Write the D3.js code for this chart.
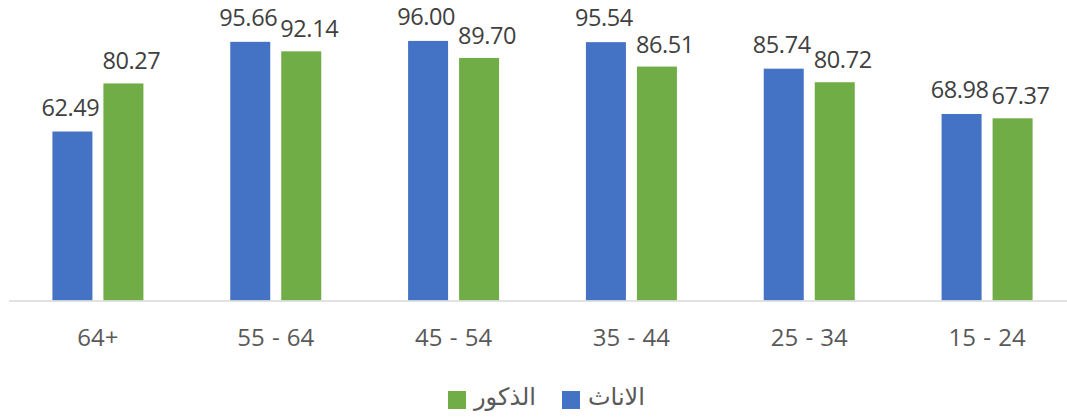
<!DOCTYPE html>
<html>
<head>
<meta charset="utf-8">
<title>Chart</title>
<script src="https://d3js.org/d3.v7.min.js"></script>
<style>
  body { margin: 0; background: #fff; }
  text { font-family: "Open Sans", "DejaVu Sans", sans-serif; }
</style>
</head>
<body>
<svg id="chart"></svg>
<script>
// categories left to right
const categories = ['64+', '55 - 64', '45 - 54', '35 - 44', '25 - 34', '15 - 24'];
const seriesNames = ['الاناث', 'الذكور'];
const females = [62.49, 95.66, 96.00, 95.54, 85.74, 68.98];
const males = [80.27, 92.14, 89.70, 86.51, 80.72, 67.37];

const width = 1067, height = 417;
const colors = ['#4472C4', '#70AD47'];

const svg = d3.select('#chart').attr('width', width).attr('height', height);

const x0 = d3.scaleBand().domain(categories).range([9, 1076]).padding(0);
const x1 = d3.scaleBand().domain(seriesNames).range([-45.5, 45.5]).paddingInner(0.2157);
const y = d3.scaleLinear().domain([0, 100]).range([300.5, 30.1]);

const data = categories.map((c, i) => ({cat: c, values: [females[i], males[i]]}));

const groups = svg.selectAll('g.grp')
  .data(data)
  .enter().append('g')
  .attr('class', 'grp')
  .attr('transform', d => `translate(${x0(d.cat) + x0.bandwidth() / 2},0)`);

groups.selectAll('rect')
  .data(d => d.values.map((v, j) => ({name: seriesNames[j], v, j})))
  .enter().append('rect')
  .attr('x', d => x1(d.name))
  .attr('y', d => y(d.v))
  .attr('width', x1.bandwidth())
  .attr('height', d => y(0) - y(d.v))
  .attr('fill', d => colors[d.j]);

// value labels (green labels sit a little lower and to the right)
groups.selectAll('text.val')
  .data(d => d.values.map((v, j) => ({name: seriesNames[j], v, j})))
  .enter().append('text')
  .attr('class', 'val')
  .attr('x', d => x1(d.name) + x1.bandwidth() / 2 + (d.j === 1 ? 8 : -2))
  .attr('y', d => y(d.v) - (d.j === 1 ? 14 : 16))
  .attr('text-anchor', 'middle')
  .attr('font-size', 23.5)
  .attr('letter-spacing', -0.4)
  .attr('fill', '#404040')
  .text(d => d.v.toFixed(2));

// x axis line
svg.append('line')
  .attr('x1', 9).attr('x2', width)
  .attr('y1', y(0) + 0.5).attr('y2', y(0) + 0.5)
  .attr('stroke', '#d9d9d9').attr('stroke-width', 1.5);

svg.selectAll('text.cat')
  .data(categories)
  .enter().append('text')
  .attr('class', 'cat')
  .attr('x', d => x0(d) + x0.bandwidth() / 2)
  .attr('y', 346)
  .attr('text-anchor', 'middle')
  .attr('font-size', 24)
  .attr('word-spacing', 1)
  .attr('fill', '#595959')
  .text(d => d);

// legend: [green] الذكور   [blue] الاناث
const legendItems = [
  {name: seriesNames[1], color: colors[1], x: 448},
  {name: seriesNames[0], color: colors[0], x: 562}
];
const lg = svg.append('g');
lg.selectAll('rect')
  .data(legendItems)
  .enter().append('rect')
  .attr('x', d => d.x).attr('y', 391)
  .attr('width', 18).attr('height', 18)
  .attr('fill', d => d.color);
lg.selectAll('text')
  .data(legendItems)
  .enter().append('text')
  .attr('x', d => d.x + 26)
  .attr('y', 405)
  .attr('font-size', 24)
  .attr('fill', '#595959')
  .attr('direction', 'rtl')
  .attr('text-anchor', 'end')
  .text(d => d.name);
</script>
</body>
</html>
